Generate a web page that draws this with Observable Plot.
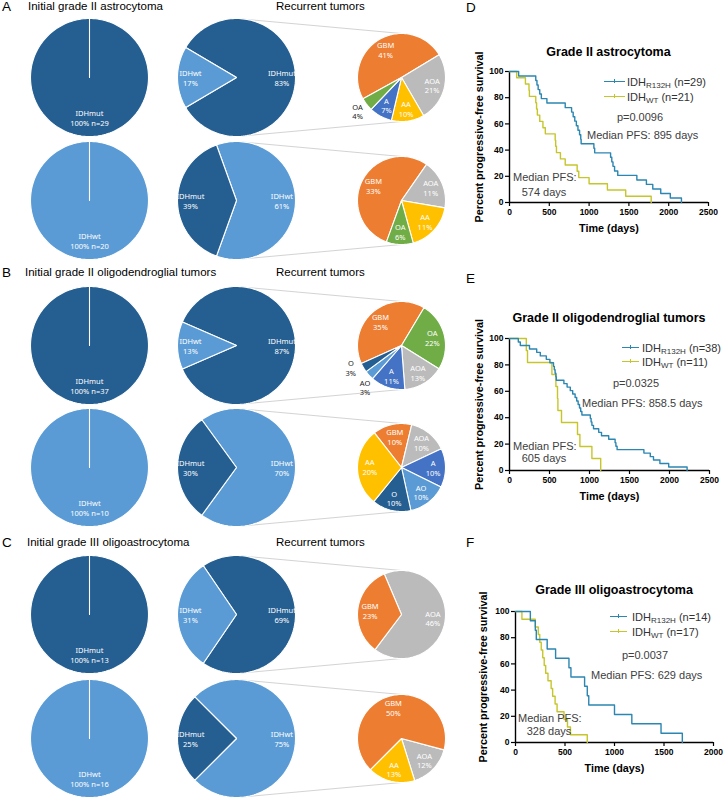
<!DOCTYPE html>
<html><head><meta charset="utf-8">
<script src="https://cdn.jsdelivr.net/npm/d3@7"></script>
<script src="https://cdn.jsdelivr.net/npm/@observablehq/plot@0.6"></script>
<style>
body{margin:0;background:#fff;}
#fig{position:relative;width:724px;height:799px;overflow:hidden;font-family:"Liberation Sans",Arial,sans-serif;color:#000;}
.abs{position:absolute;white-space:nowrap;line-height:1;}
.abs sub{font-size:8px;vertical-align:-2px;line-height:0;}
</style></head><body><div id="fig"></div>
<script>
// ---------------- DATA ----------------
const panelLetters = ["A", "B", "C"];
const panelTitles = ["Initial grade II astrocytoma", "Initial grade II oligodendroglial tumors", "Initial grade III oligoastrocytoma"];
const recurrentTitle = "Recurrent tumors";

// initial tumours (full pies), one per row
const initialGroups = ["IDHmut", "IDHwt", "IDHmut", "IDHwt", "IDHmut", "IDHwt"];
const initialN = [29, 20, 37, 10, 13, 16];
// recurrent tumours: IDH status %
const recurrentMut = [83, 39, 87, 30, 69, 25];
const recurrentWt = [17, 61, 13, 70, 31, 75];
// breakdown of the highlighted recurrent slice by histology (%)
const breakdownCats = [
  ["GBM", "AOA", "AA", "A", "OA"],
  ["GBM", "AOA", "AA", "OA"],
  ["GBM", "OA", "AOA", "A", "AO", "O"],
  ["GBM", "AOA", "A", "AO", "O", "AA"],
  ["AOA", "GBM"],
  ["AOA", "AA", "GBM"]
];
const breakdownPct = [
  [41, 21, 10, 7, 4],
  [33, 11, 11, 6],
  [35, 22, 13, 11, 3, 3],
  [10, 10, 10, 10, 10, 20],
  [46, 23],
  [12, 13, 50]
];

// Kaplan-Meier panels
const kmLetters = ["D", "E", "F"];
const kmTitles = ["Grade II astrocytoma", "Grade II oligodendroglial tumors", "Grade III oligoastrocytoma"];
const kmMutN = [29, 38, 14];
const kmWtN = [21, 11, 17];
const kmPValues = ["p=0.0096", "p=0.0325", "p=0.0037"];
const kmMutMedian = ["895", "858.5", "629"];
const kmWtMedian = ["574", "605", "328"];
const kmXTicks = [[0, 500, 1000, 1500, 2000, 2500], [0, 500, 1000, 1500, 2000, 2500], [0, 500, 1000, 1500, 2000]];
const kmYTicks = [0, 20, 40, 60, 80, 100];
const kmXLabel = "Time (days)";
const kmYLabel = "Percent progressive-free survival";

const dMutTime = [0, 115, 330, 345, 360, 380, 400, 470, 700, 780, 800, 820, 840, 860, 880, 895, 900, 1060, 1070, 1270, 1285, 1300, 1320, 1360, 1600, 1720, 1800, 1900, 2020, 2160];
const dMutSurv = [100, 96.6, 93.1, 89.7, 86.2, 82.8, 79.3, 75.9, 72.4, 69.0, 65.5, 62.1, 58.6, 55.2, 51.7, 48.3, 44.8, 41.4, 37.9, 34.5, 31.0, 27.6, 24.1, 20.7, 17.2, 13.8, 10.3, 6.9, 3.4, 0];
const dWtTime = [0, 90, 200, 245, 250, 330, 340, 350, 380, 420, 450, 574, 580, 590, 640, 700, 850, 870, 1000, 1230, 1460, 1780];
const dWtSurv = [100, 95.2, 90.5, 85.7, 81.0, 76.2, 71.4, 66.7, 61.9, 57.1, 52.4, 47.6, 42.9, 38.1, 33.3, 28.6, 23.8, 19.0, 14.3, 9.5, 4.8, 0];

const eMutTime = [0, 110, 135, 250, 340, 385, 460, 505, 550, 560, 570, 580, 585, 680, 720, 760, 790, 820, 840, 858, 875, 890, 905, 1010, 1020, 1030, 1050, 1115, 1150, 1240, 1320, 1330, 1345, 1680, 1760, 1800, 1880, 1990, 2220];
const eMutSurv = [100, 97.4, 94.7, 92.1, 89.5, 86.8, 84.2, 81.6, 78.9, 76.3, 73.7, 71.1, 68.4, 65.8, 63.2, 60.5, 57.9, 55.3, 52.6, 50.0, 47.4, 44.7, 42.1, 39.5, 36.8, 34.2, 31.6, 28.9, 26.3, 23.7, 21.1, 18.4, 15.8, 13.2, 10.5, 7.9, 5.3, 2.6, 0];
const eWtTime = [0, 210, 225, 530, 580, 600, 605, 650, 850, 880, 1030, 1140];
const eWtSurv = [100, 90.9, 81.8, 72.7, 63.6, 54.5, 45.5, 36.4, 27.3, 18.2, 9.1, 0];

const fMutTime = [0, 150, 200, 210, 320, 405, 540, 560, 698, 725, 740, 1000, 1175, 1470, 1685];
const fMutSurv = [100, 92.9, 85.7, 78.6, 71.4, 64.3, 57.1, 50.0, 42.9, 35.7, 28.6, 21.4, 14.3, 7.1, 0];
const fWtTime = [0, 65, 200, 230, 245, 260, 275, 290, 305, 328, 360, 375, 400, 420, 490, 525, 555, 725];
const fWtSurv = [100, 94.1, 88.2, 82.4, 76.5, 70.6, 64.7, 58.8, 52.9, 47.1, 41.2, 35.3, 29.4, 23.5, 17.6, 11.8, 5.9, 0];

// ---------------- STYLE / LAYOUT ----------------
const DARK = "#255E91", LIGHT = "#5B9BD5";
const histColors = {GBM: "#ED7D31", AOA: "#BBBBBB", AA: "#FFC000", A: "#4472C4", OA: "#70AD47", O: "#255E91", AO: "#5B9BD5"};
const MUT_COLOR = "#2B86B2", WT_COLOR = "#C6C62C";
const initCX = 89, midCX = 236, smallCX = 401;
const rowCY = [77, 200, 345, 467, 614, 738];
const bigR = 59, smallR = 44;
const PIE_FONT = "Noto Sans";

const fig = document.getElementById("fig");
function addText(html, x, y, css = {}, anchor = "left") {
  const d = document.createElement("div");
  d.className = "abs";
  d.style.left = x + "px";
  d.style.top = y + "px";
  d.style.transform = anchor === "center" ? "translate(-50%,-50%)" : "translate(0,-50%)";
  Object.assign(d.style, css);
  d.innerHTML = html;
  fig.appendChild(d);
  return d;
}

function arcPoly(cx, cy, r, a0, a1) {
  const pts = [[cx, cy]];
  const n = Math.max(2, Math.ceil(Math.abs(a1 - a0) / 2));
  for (let i = 0; i <= n; i++) {
    const a = (a0 + (a1 - a0) * i / n) * Math.PI / 180;
    pts.push([cx + r * Math.sin(a), cy - r * Math.cos(a)]);
  }
  pts.push([cx, cy]);
  return pts;
}
function polar(cx, cy, r, a) {
  const t = a * Math.PI / 180;
  return [cx + r * Math.sin(t), cy - r * Math.cos(t)];
}
// rotation of first slice of each breakdown pie (layout)
const smallStart = [241, 200, 246, 322, -23, 105];

// ---------------- PIES (left part) ----------------
const pieMarks = [];
const pieLabels = [];
const links = [];
function slice(cx, cy, r, a0, a1, color) {
  pieMarks.push(Plot.line(arcPoly(cx, cy, r, a0, a1), {
    x: d => d[0], y: d => d[1], fill: color, stroke: "#fff", strokeWidth: 1.1, strokeLinejoin: "round"
  }));
}
rowCY.forEach((cy, i) => {
  const g = initialGroups[i];
  // initial pie (100%)
  slice(initCX, cy, bigR, 0, 360, g === "IDHmut" ? DARK : LIGHT);
  pieLabels.push({x: initCX, y: cy + 0.69 * bigR, text: `${g}\n100% n=${initialN[i]}`, fill: "#fff"});
  // recurrent pie
  const expandedMut = g === "IDHmut";
  const leftPct = expandedMut ? recurrentWt[i] : recurrentMut[i];
  const rightPct = expandedMut ? recurrentMut[i] : recurrentWt[i];
  const leftName = expandedMut ? "IDHwt" : "IDHmut";
  const rightName = expandedMut ? "IDHmut" : "IDHwt";
  const span = leftPct * 3.6;
  const a0 = 270 - span / 2, a1 = 270 + span / 2;
  slice(midCX, cy, bigR, a1, a0 + 360, expandedMut ? DARK : LIGHT);
  slice(midCX, cy, bigR, a0, a1, expandedMut ? LIGHT : DARK);
  const pl = polar(midCX, cy, 0.78 * bigR, 270);
  const pr = polar(midCX, cy, 0.77 * bigR, 90);
  pieLabels.push({x: pl[0], y: pl[1], text: `${leftName}\n${leftPct}%`, fill: "#fff"});
  pieLabels.push({x: pr[0], y: pr[1], text: `${rightName}\n${rightPct}%`, fill: "#fff"});
  // connectors
  links.push({x1: midCX, y1: cy - bigR, x2: smallCX, y2: cy - smallR});
  links.push({x1: midCX, y1: cy + bigR, x2: smallCX, y2: cy + smallR});
  // breakdown pie
  const cats = breakdownCats[i], vals = breakdownPct[i];
  const total = d3.sum(vals);
  let a = smallStart[i];
  const outsideIdx = [];
  const mids = [];
  cats.forEach((c, k) => {
    const sp = vals[k] / total * 360;
    slice(smallCX, cy, smallR, a, a + sp, histColors[c]);
    mids.push(a + sp / 2);
    if (vals[k] / total < 0.06) outsideIdx.push(k);
    a += sp;
  });
  // spread neighbouring outside labels so they do not collide
  const outAngle = {};
  outsideIdx.forEach(k => { outAngle[k] = mids[k]; });
  for (let j = 1; j < outsideIdx.length; j++) {
    const k0 = outsideIdx[j - 1], k1 = outsideIdx[j];
    const gap = outAngle[k1] - outAngle[k0];
    if (Math.abs(gap) < 25) {
      const m = (outAngle[k0] + outAngle[k1]) / 2, s = Math.sign(gap) || 1;
      outAngle[k0] = m - s * 12.5;
      outAngle[k1] = m + s * 12.5;
    }
  }
  cats.forEach((c, k) => {
    const outside = k in outAngle;
    const p = outside ? polar(smallCX, cy, 1.26 * smallR, outAngle[k]) : polar(smallCX, cy, 0.72 * smallR, mids[k]);
    pieLabels.push({x: p[0], y: p[1], text: `${c}\n${vals[k]}%`, fill: outside ? "#222" : "#fff"});
  });
});

const piePlot = Plot.plot({
  width: 450, height: 799, margin: 0,
  x: {domain: [0, 450], range: [0, 450], axis: null},
  y: {domain: [0, 799], range: [0, 799], axis: null},
  style: {background: "transparent", overflow: "visible"},
  marks: [
    Plot.link(links, {x1: "x1", y1: "y1", x2: "x2", y2: "y2", stroke: "#C8C8C8", strokeWidth: 0.8}),
    ...pieMarks,
    Plot.text(pieLabels, {x: "x", y: "y", text: "text", fill: "fill", fontSize: 7.5, lineHeight: 1.3, fontFamily: PIE_FONT})
  ]
});
piePlot.style.position = "absolute";
piePlot.style.left = "0px";
piePlot.style.top = "0px";
fig.appendChild(piePlot);

// panel headers (left)
const headerY = [7, 273, 543];
const titleX = [28, 25, 27];
panelLetters.forEach((L, i) => {
  addText(L, 2, headerY[i], {fontSize: "13.5px"});
  addText(panelTitles[i], titleX[i], headerY[i], {fontSize: "11.5px"});
  addText(recurrentTitle, 276, headerY[i], {fontSize: "11.5px"});
});

// ---------------- KAPLAN-MEIER ----------------
const kmSeries = [
  [dMutTime, dMutSurv, dWtTime, dWtSurv],
  [eMutTime, eMutSurv, eWtTime, eWtSurv],
  [fMutTime, fMutSurv, fWtTime, fWtSurv]
];
const kmLayout = [
  {top: 40, height: 200, ml: 59, mr: 16, mt: 31, mb: 38, ydx: -30},
  {top: 300, height: 200, ml: 59, mr: 15, mt: 38, mb: 30, ydx: -30},
  {top: 570, height: 210, ml: 65, mr: 11, mt: 41, mb: 38, ydx: -32}
];
const kmText = [
  {letterY: 8, titleY: 52, leg: [604, 625, 627, 82, 97], p: [640, 117], m1: [587, 135], m2: [513, 177, 544, 192]},
  {letterY: 279, titleY: 318, leg: [622, 639, 642, 348, 362], p: [636, 383], m1: [582, 403], m2: [513, 446, 544, 458]},
  {letterY: 543, titleY: 590, leg: [610, 627, 632, 617, 632], p: [645, 655], m1: [591, 675], m2: [518, 718, 549, 731]}
];

kmSeries.forEach(([mt, ms, wt, ws], i) => {
  const L = kmLayout[i];
  const mut = mt.map((t, k) => ({t, s: ms[k]}));
  const wtd = wt.map((t, k) => ({t, s: ws[k]}));
  const xt = kmXTicks[i];
  const xmax = xt[xt.length - 1];
  const svg = Plot.plot({
    width: 274, height: L.height,
    marginLeft: L.ml, marginRight: L.mr, marginTop: L.mt, marginBottom: L.mb,
    x: {domain: [0, xmax]},
    y: {domain: [0, 100]},
    style: {background: "transparent", overflow: "visible", fontFamily: "Liberation Sans, Arial, sans-serif", fontSize: "8.5px", fontWeight: "bold", color: "#000"},
    marks: [
      Plot.axisX({ticks: xt, tickFormat: "d", tickSize: 4, tickPadding: 2, label: null, strokeWidth: 1.2}),
      Plot.axisY({ticks: kmYTicks, tickFormat: "d", tickSize: 4, tickPadding: 2, label: null, strokeWidth: 1.2}),
      Plot.ruleX([0], {y1: 0, y2: 100, strokeWidth: 1.4}),
      Plot.ruleY([0], {x1: 0, x2: xmax, strokeWidth: 1.4}),
      Plot.line(wtd, {x: "t", y: "s", curve: "step-after", stroke: WT_COLOR, strokeWidth: 1.4}),
      Plot.line(mut, {x: "t", y: "s", curve: "step-after", stroke: MUT_COLOR, strokeWidth: 1.4}),
      Plot.text([kmXLabel], {frameAnchor: "bottom", dy: 26, lineAnchor: "middle", textAnchor: "middle", fontSize: 10.8, fontWeight: "bold"}),
      Plot.text([kmYLabel], {frameAnchor: "left", dx: L.ydx, rotate: -90, textAnchor: "middle", lineAnchor: "middle", fontSize: 10.8, fontWeight: "bold"})
    ]
  });
  svg.style.position = "absolute";
  svg.style.left = "450px";
  svg.style.top = L.top + "px";
  fig.appendChild(svg);

  const T = kmText[i];
  addText(kmLetters[i], 466, T.letterY, {fontSize: "13.5px"});
  const frameCx = 450 + L.ml + (274 - L.ml - L.mr) / 2;
  addText(kmTitles[i], frameCx, T.titleY, {fontSize: "12.5px", fontWeight: "bold"}, "center");
  // legend
  const [sx0, sx1, tx, r1, r2] = T.leg;
  [[r1, MUT_COLOR, `IDH<sub>R132H</sub> (n=${kmMutN[i]})`], [r2, WT_COLOR, `IDH<sub>WT</sub> (n=${kmWtN[i]})`]].forEach(([ry, col, html]) => {
    const line = document.createElement("div");
    line.style.cssText = `position:absolute;left:${sx0}px;top:${ry - 0.7}px;width:${sx1 - sx0}px;height:0;border-top:1.4px solid ${col};`;
    fig.appendChild(line);
    const tick = document.createElement("div");
    tick.style.cssText = `position:absolute;left:${(sx0 + sx1) / 2 - 0.6}px;top:${ry - 3}px;width:0;height:4px;border-left:1.2px solid ${col};`;
    fig.appendChild(tick);
    addText(html, tx, ry, {fontSize: "11px", color: "#333"});
  });
  addText(kmPValues[i], T.p[0], T.p[1], {fontSize: "11px", color: "#404040"}, "center");
  addText(`Median PFS: ${kmMutMedian[i]} days`, T.m1[0], T.m1[1], {fontSize: "11px", color: "#404040"});
  addText("Median PFS:", T.m2[0], T.m2[1], {fontSize: "11px", color: "#404040"});
  addText(`${kmWtMedian[i]} days`, T.m2[2], T.m2[3], {fontSize: "11px", color: "#404040"}, "center");
});
</script></body></html>
